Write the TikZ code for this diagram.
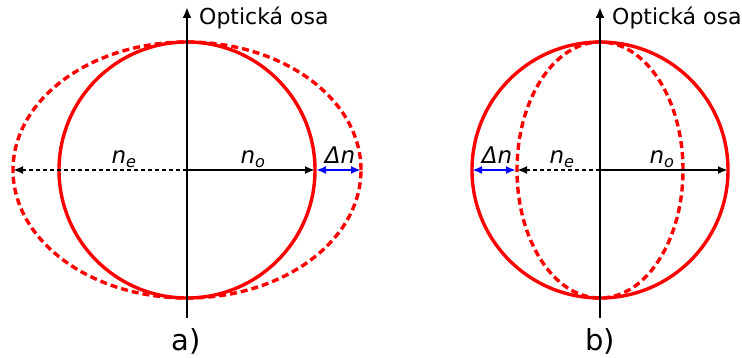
\documentclass[tikz,border=0pt]{standalone}
\usepackage{fontspec}
\setmainfont{DejaVu Sans}
\usetikzlibrary{arrows.meta}

\tikzset{
  axisline/.style={line width=2.4pt, -{Latex[length=11pt,width=9pt]}},
  radiusline/.style={line width=2pt, -{Latex[length=10pt,width=8pt]}},
  dashedradius/.style={radiusline, dash pattern=on 4pt off 3pt},
  deltaline/.style={blue, line width=2pt, {Latex[length=10pt,width=8pt]}-{Latex[length=10pt,width=8pt]}},
  fullcircle/.style={red, line width=3.4pt},
  dashedellipse/.style={red, line width=3.4pt, dash pattern=on 7pt off 4pt},
  axislabel/.style={anchor=base west, font=\fontsize{22}{26}\selectfont, inner sep=0pt},
  ilabel/.style={anchor=base, font=\fontsize{23}{27}\selectfont\itshape, inner sep=0pt},
  caption/.style={font=\fontsize{29}{33}\selectfont, inner sep=0pt}
}
\newcommand{\sub}[1]{\textsubscript{#1}}

\begin{document}
\begin{tikzpicture}[x=1pt, y=-1pt]
    % --- Define Coordinates and Parameters ---
    \def\R{128}      % radius of the n_o circle
    \def\aWide{174}  % half width of the wide ellipse (a)
    \def\aNarrow{83} % half width of the narrow ellipse (b)
    \def\yC{170}     % height of the centres
    \useasboundingbox (0,0) rectangle (742,358);

    % --- Part a) ---
    \coordinate (ca) at (187,\yC);
    \coordinate (atop) at (187,7);
    \coordinate (abot) at (187,318);
    \coordinate (aout) at (187+\R,\yC);
    \coordinate (awide) at (187-\aWide,\yC);
    \coordinate (awideR) at (187+\aWide,\yC);

    \draw[dashedellipse] (ca) ellipse[x radius=\aWide pt, y radius=\R pt];
    \draw[fullcircle] (ca) circle[radius=\R pt];
    \draw[axisline] (abot) -- (atop);

    \draw[dashedradius] (ca) -- (awide);
    \draw[radiusline] (ca) -- (aout);
    \draw[deltaline] ([xshift=1pt]aout) -- (awideR);

    \node[ilabel] (nea) at (124,164) {n\sub{e}};
    \node[ilabel] (noa) at (253,164) {n\sub{o}};
    \node[ilabel] (dna) at (340,164) {Δn};
    \node[axislabel] (osaa) at (199,25) {Optická osa};
    \node[caption] (capa) at (186,341) {a)};

    % --- Part b) ---
    \coordinate (cb) at (600,\yC);
    \coordinate (btop) at (600,7);
    \coordinate (bbot) at (600,318);
    \coordinate (bout) at (600+\R,\yC);
    \coordinate (bin) at (600-\R,\yC);
    \coordinate (bnarrow) at (600-\aNarrow,\yC);

    \draw[fullcircle] (cb) circle[radius=\R pt];
    \draw[dashedellipse] (cb) ellipse[x radius=\aNarrow pt, y radius=\R pt];
    \draw[axisline] (bbot) -- (btop);

    \draw[dashedradius] (cb) -- (bnarrow);
    \draw[radiusline] (cb) -- (bout);
    \draw[deltaline] (bin) -- ([xshift=-1pt]bnarrow);

    \node[ilabel] (dnb) at (497,164) {Δn};
    \node[ilabel] (neb) at (562,164) {n\sub{e}};
    \node[ilabel] (nob) at (662,164) {n\sub{o}};
    \node[axislabel] (osab) at (612,25) {Optická osa};
    \node[caption] (capb) at (600,341) {b)};
\end{tikzpicture}
\end{document}
